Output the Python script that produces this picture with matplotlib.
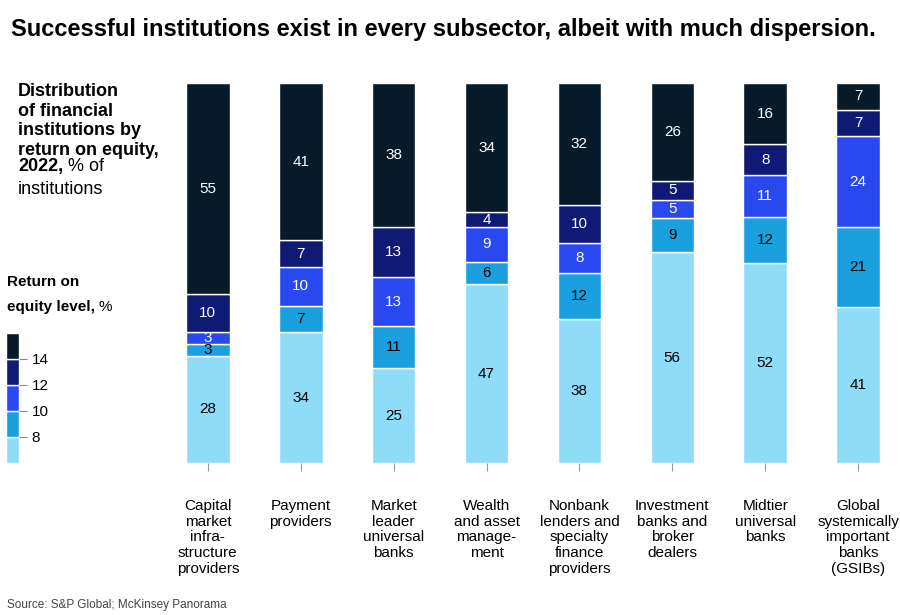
import matplotlib
matplotlib.use("Agg")
import matplotlib.pyplot as plt
import numpy as np

plt.rcParams['font.family'] = ['Liberation Sans', 'DejaVu Sans']

categories = ["Capital\nmarket\ninfra-\nstructure\nproviders", "Payment\nproviders",
              "Market\nleader\nuniversal\nbanks", "Wealth\nand asset\nmanage-\nment",
              "Nonbank\nlenders and\nspecialty\nfinance\nproviders", "Investment\nbanks and\nbroker\ndealers",
              "Midtier\nuniversal\nbanks", "Global\nsystemically\nimportant\nbanks\n(GSIBs)"]
lt8 = [28, 34, 25, 47, 38, 56, 52, 41]
r8_10 = [3, 7, 11, 6, 12, 9, 12, 21]
r10_12 = [3, 10, 13, 9, 8, 5, 11, 24]
r12_14 = [10, 7, 13, 4, 10, 5, 8, 7]
gt14 = [55, 41, 38, 34, 32, 26, 16, 7]
series = [lt8, r8_10, r10_12, r12_14, gt14]
legend_ticks = ["14", "12", "10", "8"]

colors = ["#8fdcf8", "#1aa0de", "#2a48f0", "#0e1a73", "#071a2a"]
text_colors = ["black", "black", "white", "white", "white"]

fig = plt.figure(figsize=(9, 6.15), dpi=100)
ax = fig.add_axes([180/900, 1-463/615, 706/900, 380/615])
x = np.arange(len(categories))
data = np.array(series, dtype=float)
totals = data.sum(axis=0)
bottom = np.zeros(len(categories))
for i, s in enumerate(data):
    h = s / totals * 100
    ax.bar(x, h, bottom=bottom, width=0.47, color=colors[i], edgecolor="white", linewidth=1)
    for j in range(len(x)):
        ax.text(x[j], bottom[j] + h[j]/2, f"{int(s[j])}", ha="center", va="center",
                fontsize=11, color=text_colors[i])
    bottom += h
ax.set_xlim(-0.3, 7.3)
ax.set_ylim(0, 100)
for sp in ax.spines.values():
    sp.set_visible(False)
ax.set_yticks([])
ax.set_xticks(x)
ax.set_xticklabels(categories, fontsize=11, linespacing=1.15, va="top")
ax.tick_params(axis="x", length=6, color="#999999", pad=20)

fig.text(0.012, 0.97, "Successful institutions exist in every subsector, albeit with much dispersion.",
         fontsize=17, fontweight="bold", va="top")
fig.text(0.02, 0.865, "Distribution\nof financial\ninstitutions by\nreturn on equity,",
         fontsize=13, fontweight="bold", va="top", linespacing=1.2)
t2022 = fig.text(0.02, 0.722, "2022,", fontsize=13, fontweight="bold", va="baseline")
fig.canvas.draw()
r = fig.canvas.get_renderer()
bb = t2022.get_window_extent(r)
fig.text(bb.x1/900 + 0.005, 0.722, "% of", fontsize=13, va="baseline")
fig.text(0.02, 0.685, "institutions", fontsize=13, va="baseline")
fig.text(0.008, 0.535, "Return on", fontsize=11, fontweight="bold", va="baseline")
tel = fig.text(0.008, 0.495, "equity level,", fontsize=11, fontweight="bold", va="baseline")
fig.canvas.draw()
bb2 = tel.get_window_extent(r)
fig.text(bb2.x1/900 + 0.004, 0.495, "%", fontsize=11, va="baseline")

lax = fig.add_axes([6/900, 1-463/615, 13/900, 130/615])
lb = 0
for c in colors:
    lax.bar(0, 1, bottom=lb, width=1, color=c, edgecolor="white", linewidth=1)
    lb += 1
lax.set_xlim(-0.5, 0.5)
lax.set_ylim(0, 5)
for sp in lax.spines.values():
    sp.set_visible(False)
lax.set_xticks([])
lax.yaxis.tick_right()
lax.set_yticks([4, 3, 2, 1])
lax.set_yticklabels(legend_ticks, fontsize=11)
lax.tick_params(axis="y", length=6, color="#888888", pad=3)

fig.text(0.008, 0.012, "Source: S&P Global; McKinsey Panorama", fontsize=8.5, color="#444444")
fig.savefig("out.png", dpi=100)
